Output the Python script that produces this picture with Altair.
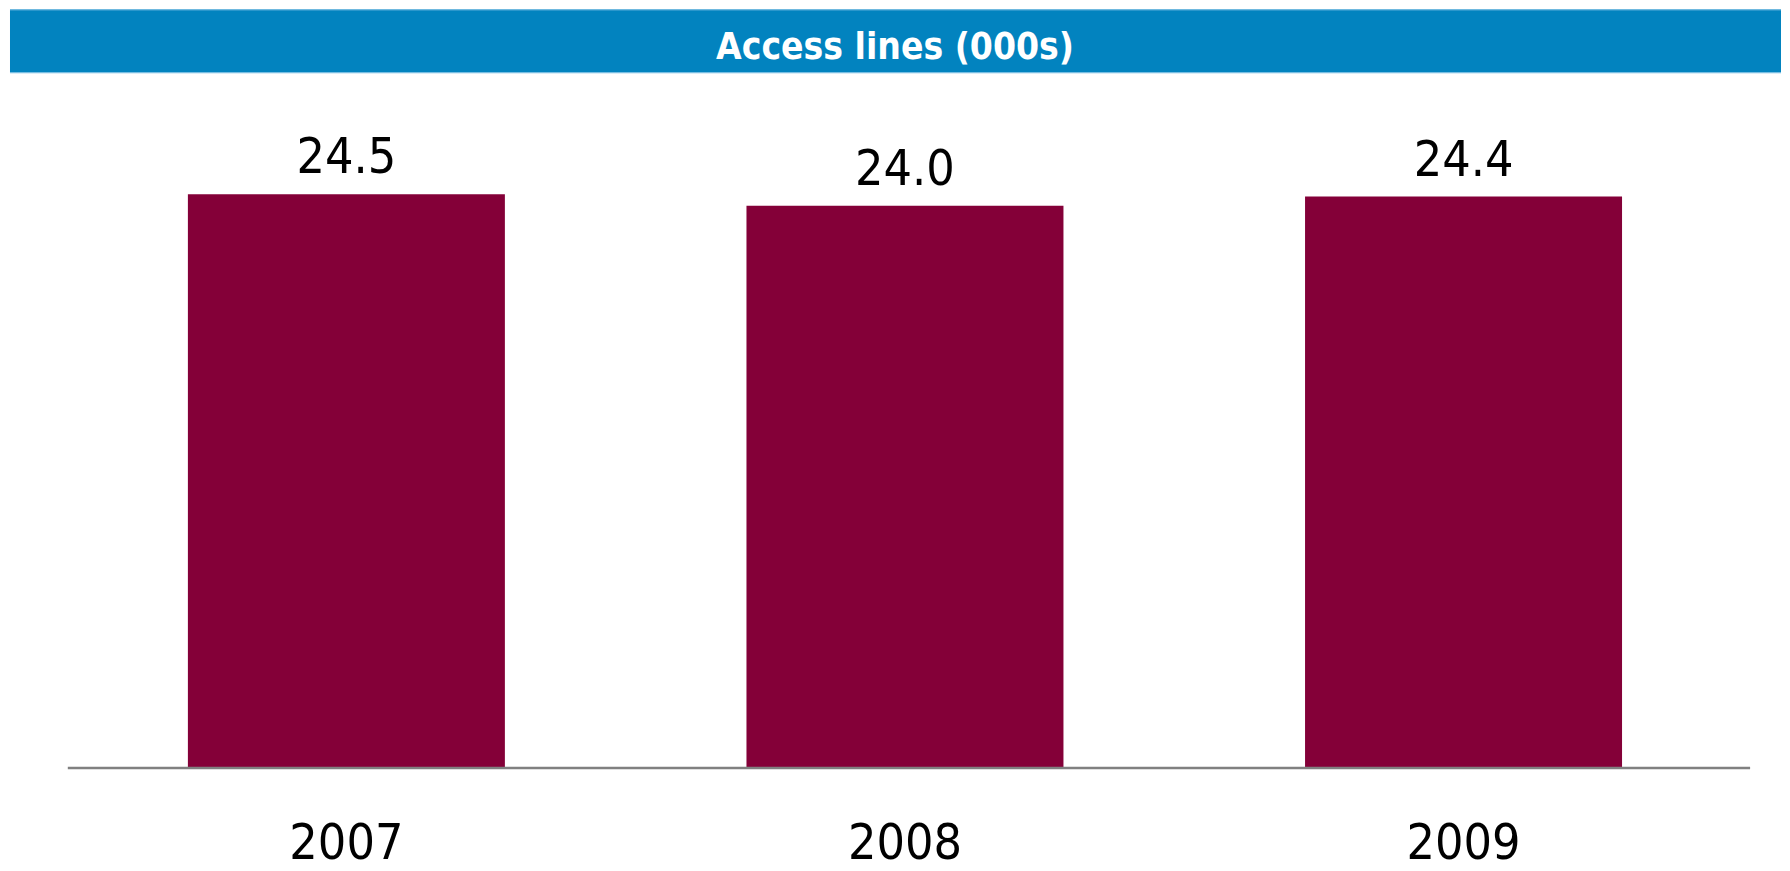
import altair as alt
import pandas as pd

years = ["2007", "2008", "2009"]
values = [24.5, 24.0, 24.4]
title_text = "Access lines (000s)"

FONT = "DejaVu Sans Condensed, Liberation Sans Narrow, DejaVu Sans"
BAR_COLOR = "#840038"
HEADER_COLOR = "#0283BF"

df = pd.DataFrame({"year": years, "value": values})
hdr = pd.DataFrame({"t": [title_text]})

x_enc = alt.X("year:N", sort=years,
              scale=alt.Scale(paddingInner=0.4325, paddingOuter=0.215),
              axis=alt.Axis(title=None, labelAngle=0, ticks=False, domain=False,
                            labelFont=FONT, labelFontSize=50,
                            labelColor="#000000", labelBaseline="alphabetic",
                            labelPadding=92, grid=False))
y_enc = alt.Y("value:Q", scale=alt.Scale(domain=[0, 32.4], nice=False), axis=None)

bars = alt.Chart(df).mark_bar(color=BAR_COLOR).encode(x=x_enc, y=y_enc)
labels = alt.Chart(df).mark_text(font=FONT, fontSize=50, color="#000000",
                                 baseline="alphabetic", dy=-21).encode(
    x=alt.X("year:N", sort=years), y="value:Q", text=alt.Text("value:Q", format=".1f"))

baseline = alt.Chart(hdr).mark_rule(color="#808080", strokeWidth=2.5).encode(
    x=alt.value(0), x2=alt.value(1688), y=alt.value(761))

header = alt.Chart(hdr).mark_rect(color=HEADER_COLOR).encode(
    x=alt.value(-58), x2=alt.value(1719), y=alt.value(0), y2=alt.value(63))
header_edges = alt.Chart(pd.DataFrame({"y": [0.5, 63.5]})).mark_rule(
    color="#63B3DE", strokeWidth=1).encode(
    x=alt.value(-58), x2=alt.value(1719), y=alt.Y("y:Q", scale=None))
header_text = alt.Chart(hdr).mark_text(font=FONT, fontSize=37, fontWeight="bold",
                                       color="#FFFFFF", align="center",
                                       baseline="alphabetic").encode(
    x=alt.value(830), y=alt.value(50), text="t:N")

chart = alt.layer(header, header_edges, header_text, bars, baseline, labels).properties(
    width=1680, height=760,
    autosize=alt.AutoSizeParams(type="none"),
    padding={"left": 60, "top": 0, "right": 40, "bottom": 103},
).configure_view(strokeWidth=0)

chart.save("out.html", embed_options={"renderer": "svg", "actions": False})
